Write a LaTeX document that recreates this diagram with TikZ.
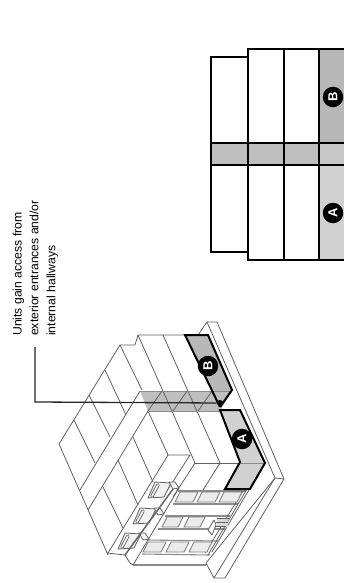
\documentclass[tikz,border=0pt]{standalone}
\usepackage{fontspec}
\setmainfont{Liberation Sans}
\definecolor{thin}{gray}{0.38}
\tikzset{
  fine/.style={draw=thin,line width=0.8pt,line join=round},
  soft/.style={draw=black!45,line width=1.1pt,line join=round},
  heavy/.style={draw=black,line width=2pt,line join=miter},
  planline/.style={draw=black,line width=1.8pt},
  win/.style={draw=black!50,fill=black!8,line width=0.9pt},
  badge/.style={circle,fill=black,text=white,inner sep=0pt,minimum size=20.5pt,font=\bfseries\fontsize{13}{13}\selectfont,rotate=90},
  callout/.style={align=left,rotate=90,anchor=south west,inner sep=0pt,font=\fontsize{12.2}{16.8}\selectfont}
}
\begin{document}
\begin{tikzpicture}[x=1pt,y=-1pt]
\useasboundingbox (0,0) rectangle (344,583);
\fill[white] (0,0) rectangle (344,583);
\clip (0,0) rectangle (344,583);
% ---- plan
\fill[black!28] (319,49) rectangle (344,143);
\fill[black!18] (319,165) rectangle (344,260);
\fill[black!25] (211,143) rectangle (319,165);
\fill[black!22] (319,143) rectangle (344,165);
\draw[planline] (344,49) -- (248,49) -- (248,260) -- (344,260);
\draw[planline] (248,57) -- (211,57) -- (211,252) -- (248,252);
\draw[planline] (284,49) -- (284,260);
\draw[planline] (319,49) -- (319,260);
\draw[planline] (211,143) -- (344,143);
\draw[planline] (211,165) -- (344,165);
\node[badge] (planB) at (333,97) {B};
\node[badge] (planA) at (333,213) {A};
% ---- callout
\node[callout] (note) at (58,336) {Units gain access from\\exterior entrances and/or\\internal hallways};
% ---- site plate
\draw[fine] (198,335) -- (207,322) -- (217,322) -- (284,479) -- (225,578) -- (214,578) -- (206,563);
\draw[fine] (207,322) -- (275,478) -- (206,563);
\draw[fine] (275,478) -- (284,479);
\draw[fine] (214,578) -- (275,478);
% ---- gray areas
\fill[black!28] (185,335) -- (208,335) -- (232,390) -- (220,407) -- cycle;
\fill[black!18] (220,410) -- (240,410) -- (265,463) -- (250,489) -- (225,489) -- (240,462) -- cycle;
\fill[black!25] (140,391) -- (232,391) -- (220,411) -- (148,411) -- cycle;
% ---- annex roof
\draw[fine] (135,345) -- (120,345) -- (59,444) -- (108,555);
\draw[fine] (135,345) -- (138,335) -- (185,335);
\draw[fine] (74,420) -- (95,463);
\draw[fine] (89,395) -- (110,437);
\draw[fine] (105,370) -- (126,415);
\draw[fine] (120,345) -- (142,390);
\draw[fine] (80,490) -- (140,391);
\draw[fine] (88,510) -- (148,411);
\draw[fine] (103,487) -- (123,528);
\draw[fine] (118,460) -- (138,505);
\draw[fine] (133,437) -- (153,482);
\draw[fine] (148,411) -- (168,455);
\draw[fine] (168,455) -- (108,553);
% ---- main roof
\draw[fine] (138,335) -- (195,463);
\draw[fine] (163,335) -- (220,463);
\draw[fine] (168,455) -- (190,455) -- (163,497);
\draw[fine] (195,463) -- (173,497);
\draw[fine] (195,463) -- (240,463);
\draw[fine] (220,463) -- (203,490);
\draw[draw=black!45,line width=0.7pt] (240,463) -- (265,463);
% ---- band
\draw[draw=black!45,line width=0.7pt] (140,391) -- (232,391);
\draw[draw=black!45,line width=0.7pt] (148,411) -- (220,411);
\draw[fine] (162,391) -- (148,411);
\draw[fine] (187,391) -- (173,411);
\draw[fine] (212,391) -- (198,411);
% ---- facade
\draw[soft] (178,491) -- (246,491);
\draw[soft] (173,504) -- (238,504);
\draw[soft] (165,516) -- (230,516);
\draw[soft] (158,529) -- (225,529);
\draw[soft] (147,540) -- (218,541);
\draw[soft] (142,554) -- (210,555);
\draw[soft] (133,565) -- (206,565);
\draw[fine] (247,489) -- (208,555);
\draw[fine] (243,491) -- (205,553);
\draw[fine] (265,463) -- (212,552);
% windows
\foreach \dx/\dy in {0/0,22/0,44/0}{
  \draw[win,shift={(\dx,\dy)}] (180,492) -- (198,492) -- (193,502) -- (175,502) -- cycle;}
\foreach \dx in {0,22}{
  \draw[win,shift={(\dx,0)}] (167,517) -- (183,517) -- (178,527) -- (162,527) -- cycle;}
\foreach \dx in {0,23,46}{
  \draw[win,shift={(\dx,0)}] (148,542) -- (166,542) -- (161,552) -- (143,552) -- cycle;}
% door and steps
\fill[black!15] (217,518) rectangle (228,527);
\draw[fine] (217,518) -- (229,518);
\draw[fine] (216,522) -- (228,522);
\draw[fine] (215,526) -- (226,526);
\draw[fine,fill=white] (211,525) -- (214,520) -- (216,525) -- (212,535) -- (208,530) -- cycle;
% entrances
\foreach \dx/\dy in {0/0,-15/26,-30/51}{
  \begin{scope}[shift={(\dx,\dy)}]
    \draw[fine,fill=black!5] (155,482) -- (171,483) -- (164,497) -- (148,498) -- cycle;
    \draw[draw=thin,line width=3.4pt,line cap=round] (158,485) -- (152,496);
    \draw[draw=white,line width=1.6pt,line cap=round] (158,485) -- (152,496);
    \draw[fine,fill=black!4] (169,482) -- (175,482) -- (179,488) -- (173,489) -- cycle;
  \end{scope}}
\draw[draw=black!60,line width=1.5pt] (173,489) -- (125,555);
\draw[fine] (179,488) -- (133,565);
\draw[fine] (125,555) -- (130,563) -- (133,565);
\draw[fine] (107,553) -- (125,555);
% ---- unit outlines
\draw[heavy] (220,407) -- (185,335) -- (208,335) -- (232,390) -- (220,407);
\draw[heavy] (240,410) -- (220,410) -- (240,462) -- (225,489) -- (250,489) -- (265,463) -- cycle;
\node[badge] (isoB) at (208,366) {B};
\node[badge] (isoA) at (242,439) {A};
\node[circle,fill=black,minimum size=6pt,inner sep=0pt] (dot) at (220,403) {};
% ---- leader
\coordinate (leadstart) at (35,347);
\coordinate (leadbend) at (35,402);
\draw[draw=black!85,line width=1.3pt] (leadstart) -- (leadbend) -- (dot);
\end{tikzpicture}
\end{document}
